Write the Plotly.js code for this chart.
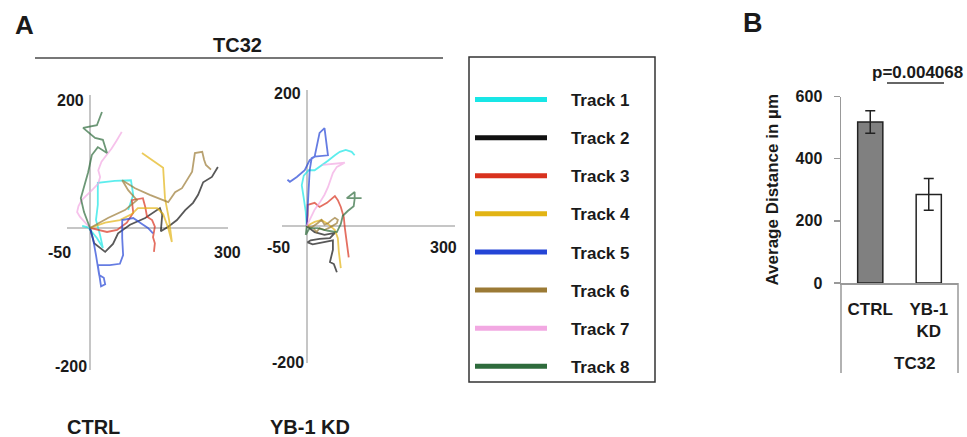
<!DOCTYPE html>
<html><head><meta charset="utf-8">
<script src="https://cdn.plot.ly/plotly-3.0.1.min.js"></script>
<style>html,body{margin:0;padding:0;background:#fff;}#chart{width:967px;height:437px;}</style>
</head><body><div id="chart"></div>
<script>
// ---------- data ----------
const trackNames = ['Track 1','Track 2','Track 3','Track 4','Track 5','Track 6','Track 7','Track 8'];
const trackColors = ['#18e6e6','#111111','#d8321e','#e2b414','#2445d6','#9b7a35','#f2a8e2','#2e6b3c'];
const panelLabels = ['CTRL','YB-1 KD'];
const axisEndLabels = {xmin:'-50', xmax:'300', ymax:'200', ymin:'-200'};

// CTRL tracks (µm)
const ctrl1x = [0,-17,-4,15,28,22,13,17,17,54,89,94,83];
const ctrl1y = [0,3,1,-15,-30,-11,12,35,68,71,72,50,27];
const ctrl2x = [0,9,33,50,61,87,120,152,157,154,170,189,207,224,235,246,265,278];
const ctrl2y = [0,-23,-36,-24,-8,5,15,30,20,-5,2,12,27,38,50,69,77,92];
const ctrl3x = [0,37,59,80,94,91,115,120,124,135,141,137,141,139];
const ctrl3y = [0,-6,-3,8,23,42,45,32,17,12,2,-14,-23,-36];
const ctrl4x = [0,33,65,91,104,146,159,170,178,172,163,159,113];
const ctrl4y = [0,8,12,21,30,30,21,0,-21,12,45,91,113];
const ctrl5x = [0,7,13,17,20,30,33,24,22,17,43,65,72,70,70,94,113,126,137];
const ctrl5y = [0,-18,-41,-56,-71,-75,-85,-88,-77,-56,-56,-54,-41,-15,12,15,6,0,-8];
const ctrl6x = [0,39,76,102,83,70,98,130,170,185,200,209,222,228,244,248,252,263];
const ctrl6y = [0,15,27,42,57,72,60,50,39,54,60,71,85,113,115,103,95,88];
const ctrl7x = [0,-11,-22,-28,-25,-18,-7,7,18,22,18,25,36,47,58,69];
const ctrl7y = [0,9,17,24,33,42,49,59,67,77,87,100,110,120,132,145];
const ctrl8x = [0,-13,-20,-11,-4,4,17,37,28,11,-15,15,26];
const ctrl8y = [0,24,45,69,84,110,122,113,133,136,151,155,175];

// YB-1 KD tracks (µm)
const kd1x = [0,-2,-6,-10,-6,4,16,28,43,57,67,79,91,97];
const kd1y = [0,21,41,60,74,82,82,88,96,104,109,112,109,104];
const kd2x = [0,16,36,57,47,26,8,2,12,26,53,53,49,47,55,61];
const kd2y = [0,-9,-13,-10,-18,-19,-21,-24,-27,-25,-21,-35,-47,-53,-56,-68];
const kd3x = [0,2,2,16,26,41,57,63,69,75,77,81,85];
const kd3y = [0,16,31,34,28,34,44,38,28,13,-2,-21,-46];
const kd4x = [0,16,30,43,57,63,65,69];
const kd4y = [0,6,9,3,-6,-18,-38,-62];
const kd5x = [0,2,4,6,10,16,26,36,43,16,6,-4,-20,-34,-39];
const kd5y = [0,24,53,82,100,102,137,144,104,102,97,82,72,65,68];
const kd6x = [0,10,22,30,36,43,51,57,63,61,47,36,26,20,14];
const kd6y = [0,-2,4,9,2,4,9,12,9,4,-2,-6,-3,-9,-4];
const kd7x = [0,8,16,26,36,43,53,61,77,32];
const kd7y = [0,13,24,34,46,57,78,87,93,90];
const kd8x = [0,-2,6,22,43,61,69,73,83,95,97,97,81,111];
const kd8y = [0,-13,-3,-3,-7,-9,3,15,22,29,40,50,41,41];

// Panel B
const barCategories = ['CTRL','YB-1 KD'];
const barTickText = ['CTRL','YB-1<br>KD'];
const barValues = [518, 285];
const barErrors = [36, 51];
const barColors = ['#808080','#ffffff'];
const groupLabel = 'TC32';
const pValueText = 'p=0.004068';
const barTicks = [0,200,400,600];

// ---------- build ----------
const W = 967, H = 437;
const F = 'Liberation Sans, Arial, sans-serif';
const ctrlX = [ctrl1x,ctrl2x,ctrl3x,ctrl4x,ctrl5x,ctrl6x,ctrl7x,ctrl8x];
const ctrlY = [ctrl1y,ctrl2y,ctrl3y,ctrl4y,ctrl5y,ctrl6y,ctrl7y,ctrl8y];
const kdX = [kd1x,kd2x,kd3x,kd4x,kd5x,kd6x,kd7x,kd8x];
const kdY = [kd1y,kd2y,kd3y,kd4y,kd5y,kd6y,kd7y,kd8y];

const traces = [];
function track(xs, ys, i, xa, ya) {
  return {type:'scatter', mode:'lines', x:xs, y:ys, xaxis:xa, yaxis:ya,
    line:{color:trackColors[i], width:1.8}, opacity:0.7, showlegend:false, hoverinfo:'skip'};
}
for (let i = 0; i < 8; i++) traces.push(track(ctrlX[i], ctrlY[i], i, 'x', 'y'));
for (let i = 0; i < 8; i++) traces.push(track(kdX[i], kdY[i], i, 'x2', 'y2'));
const pad = '\u00a0\u00a0\u00a0\u00a0';
trackNames.forEach((n, i) => traces.push({type:'scatter', mode:'lines', x:[null], y:[null],
  xaxis:'x', yaxis:'y', name:pad + n, legendgroup:'g'+i, showlegend:true,
  line:{color:trackColors[i], width:5}}));
traces.push({type:'bar', x:barCategories, y:barValues, xaxis:'x3', yaxis:'y3', width:0.43,
  marker:{color:barColors, line:{color:'#222', width:1.5}},
  error_y:{type:'data', array:barErrors, visible:true, color:'#222', thickness:1.5, width:5},
  showlegend:false, hoverinfo:'skip'});

const px = v => v / W, py = v => 1 - v / H;
const trackAxisX = d => ({domain:d, range:[-50,300], showgrid:false, zeroline:true,
  zerolinecolor:'#c6c6c6', zerolinewidth:2, showticklabels:false, ticks:'', showline:false, fixedrange:true});
const trackAxisY = (d, r) => ({domain:d, range:r, showgrid:false, zeroline:true,
  zerolinecolor:'#c6c6c6', zerolinewidth:2, showticklabels:false, ticks:'', showline:false, fixedrange:true});

function pa(x, y, text, size, extra) {
  return Object.assign({xref:'paper', yref:'paper', x:px(x), y:py(y), text:text, showarrow:false,
    xanchor:'center', yanchor:'middle', font:{family:F, size:size, weight:'bold', color:'#1a1a1a'}}, extra || {});
}
function da(xr, yr, x, y, text, xanchor, xs, ys) {
  return {xref:xr, yref:yr, x:x, y:y, text:text, showarrow:false, xanchor:xanchor, yanchor:'middle',
    xshift:xs, yshift:ys, font:{family:F, size:16, weight:'bold', color:'#1a1a1a'}};
}

const annotations = [
  pa(24, 25, 'A', 26), pa(753, 23, 'B', 27),
  pa(237, 45, groupLabel, 20),
  pa(93, 427, panelLabels[0], 20), pa(310, 427, panelLabels[1], 20),
  pa(915, 363, groupLabel, 17),
  pa(917, 72, pValueText, 17),
  da('x','y', 0, 200, axisEndLabels.ymax, 'right', -4, -5),
  da('x','y', 0, -200, axisEndLabels.ymin, 'right', -1, -6),
  da('x','y', -50, 0, axisEndLabels.xmin, 'center', -8, -25),
  da('x','y', 300, 0, axisEndLabels.xmax, 'center', -1, -25),
  da('x2','y2', 0, 200, axisEndLabels.ymax, 'right', -4, -3),
  da('x2','y2', 0, -200, axisEndLabels.ymin, 'right', -1, -1),
  da('x2','y2', -50, 0, axisEndLabels.xmin, 'center', -4, -22),
  da('x2','y2', 300, 0, axisEndLabels.xmax, 'center', -12, -22)
];

const shapes = [
  {type:'line', xref:'paper', yref:'paper', x0:px(35), x1:px(443), y0:py(58), y1:py(58), line:{color:'#777', width:2}},
  {type:'rect', xref:'paper', yref:'paper', x0:px(469), x1:px(655), y0:py(382), y1:py(57), line:{color:'#333', width:1.5}},
  {type:'line', xref:'paper', yref:'paper', x0:px(841), x1:px(841), y0:py(283), y1:py(373), line:{color:'#999', width:1.5}},
  {type:'line', xref:'paper', yref:'paper', x0:px(958), x1:px(958), y0:py(283), y1:py(373), line:{color:'#999', width:1.5}},
  {type:'line', xref:'paper', yref:'paper', x0:px(887), x1:px(944), y0:py(83), y1:py(83), line:{color:'#333', width:1.5}}
];

const layout = {
  width:W, height:H, margin:{l:0,r:0,t:0,b:0}, paper_bgcolor:'#ffffff', plot_bgcolor:'rgba(0,0,0,0)',
  font:{family:F, color:'#1a1a1a'}, showlegend:true,
  legend:{x:px(470), y:py(82), xanchor:'left', yanchor:'top', bgcolor:'rgba(0,0,0,0)', borderwidth:0,
    font:{family:F, size:17, weight:'bold', color:'#1a1a1a'}, itemwidth:72, tracegroupgap:13, traceorder:'grouped'},
  xaxis: Object.assign(trackAxisX([px(67), px(228)]), {anchor:'y'}),
  yaxis: Object.assign(trackAxisY([py(370), py(95)], [-214.2, 200.6]), {anchor:'x'}),
  xaxis2: Object.assign(trackAxisX([px(282), px(455)]), {anchor:'y2'}),
  yaxis2: Object.assign(trackAxisY([py(363), py(90)], [-201.5, 200]), {anchor:'x2'}),
  xaxis3:{domain:[px(841), px(958)], anchor:'y3', type:'category', range:[-0.5,1.5], showline:true,
    linecolor:'#999', linewidth:1.5, ticks:'', tickvals:barCategories, ticktext:barTickText,
    tickfont:{family:F, size:17, weight:'bold', color:'#1a1a1a'}, ticklabelstandoff:10, showgrid:false, fixedrange:true},
  yaxis3:{domain:[py(283), py(96.5)], anchor:'x3', range:[0,600], showline:true, linecolor:'#999', linewidth:1.5,
    ticks:'outside', ticklen:6, tickcolor:'#999', tickwidth:1.5, tickvals:barTicks,
    tickfont:{family:F, size:16, weight:'bold', color:'#1a1a1a'}, ticklabelstandoff:8,
    showgrid:false, zeroline:false, fixedrange:true,
    title:{text:'Average Distance in µm', font:{family:F, size:17, weight:'bold', color:'#1a1a1a'}, standoff:12}},
  shapes:shapes, annotations:annotations
};
Plotly.newPlot('chart', traces, layout, {displayModeBar:false, staticPlot:true});
</script></body></html>
